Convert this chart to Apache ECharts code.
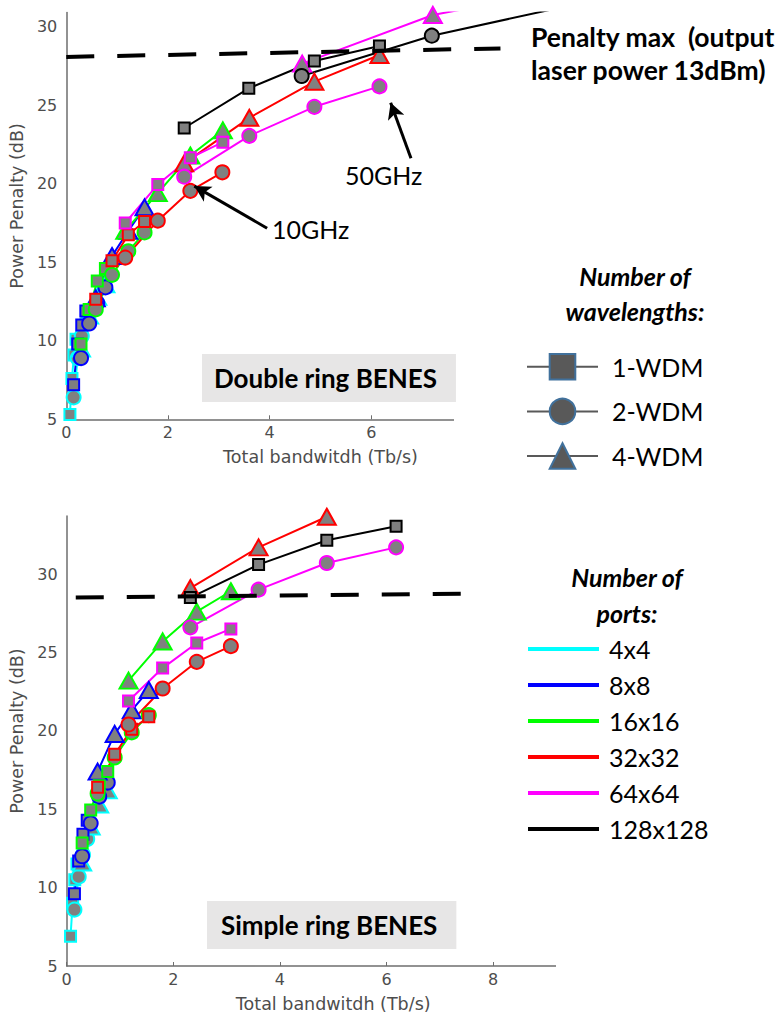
<!DOCTYPE html>
<html><head><meta charset="utf-8">
<script src="https://cdn.jsdelivr.net/npm/echarts@6/dist/echarts.min.js"></script>
<style>html,body{margin:0;padding:0;background:#fff}#c{width:782px;height:1021px}</style>
</head><body><div id="c"></div>
<script>
// ---------- labels ----------
const portLabels = ['4x4','8x8','16x16','32x32','64x64','128x128'];
const wdmLabels = ['1-WDM','2-WDM','4-WDM'];
const xTicks = [0,2,4,6,8,10];
const yTicks = [5,10,15,20,25,30];
const xName = 'Total bandwitdh (Tb/s)';
const yName = 'Power Penalty (dB)';

// ---------- Double ring BENES (top) : [bandwidth Tb/s, penalty dB] ----------
const dr_4x4_1 = [[0.072,5.3],[0.112,7.6],[0.152,9.1],[0.192,10.1]];
const dr_4x4_2 = [[0.145,6.4],[0.225,8.9],[0.305,10.3],[0.385,11.1]];
const dr_4x4_4 = [[0.29,9.5],[0.45,11.6],[0.61,12.8],[0.77,13.6]];
const dr_8x8_1 = [[0.145,7.2],[0.225,9.8],[0.305,11.0],[0.385,11.9]];
const dr_8x8_2 = [[0.29,8.9],[0.45,11.1],[0.61,12.4],[0.77,13.4]];
const dr_8x8_4 = [[0.58,12.7],[0.90,15.4],[1.22,17.0],[1.54,18.5]];
const dr_16_1 = [[0.29,9.8],[0.45,12.0],[0.61,13.8],[0.77,14.6]];
const dr_16_2 = [[0.58,12.0],[0.90,14.2],[1.22,15.7],[1.54,16.9]];
const dr_16_4 = [[1.16,17.0],[1.80,19.4],[2.44,21.8],[3.08,23.4]];
const dr_32_1 = [[0.58,12.65],[0.90,15.1],[1.22,16.75],[1.54,17.6]];
const dr_32_2 = [[1.16,15.3],[1.80,17.65],[2.44,19.55],[3.07,20.73]];
const dr_32_4 = [[2.32,21.3],[3.60,24.2],[4.88,26.5],[6.16,28.2]];
const dr_64_1 = [[1.16,17.5],[1.80,19.95],[2.44,21.65],[3.08,22.65]];
const dr_64_2 = [[2.32,20.45],[3.60,23.05],[4.88,24.9],[6.16,26.2]];
const dr_64_4 = [[4.64,27.65],[7.21,30.75],[9.75,32.3]];
const dr_128_1 = [[2.32,23.55],[3.59,26.08],[4.88,27.82],[6.16,28.77]];
const dr_128_2 = [[4.63,26.86],[7.19,29.43],[9.75,31.24]];
const dr_128_4 = [];
const dr_penaltyMax = [[0,28.08],[8.54,28.62]];
const dr_arrow50 = [[6.78,21.62],[6.38,25.16]];
const dr_arrow10 = [[3.95,17.17],[2.52,19.85]];

// ---------- Simple ring BENES (bottom) ----------
const sr_4x4_1 = [[0.072,6.9],[0.112,9.0],[0.152,10.5],[0.192,11.5]];
const sr_4x4_2 = [[0.145,8.6],[0.225,10.7],[0.305,12.1],[0.385,13.1]];
const sr_4x4_4 = [[0.29,11.6],[0.45,13.9],[0.61,15.3],[0.77,16.2]];
const sr_8x8_1 = [[0.145,9.6],[0.225,11.7],[0.305,13.4],[0.385,14.3]];
const sr_8x8_2 = [[0.29,12.0],[0.45,14.1],[0.61,15.8],[0.77,16.7]];
const sr_8x8_4 = [[0.58,17.4],[0.90,19.8],[1.22,21.3],[1.54,22.6]];
const sr_16_1 = [[0.29,12.85],[0.45,14.95],[0.61,16.5],[0.77,17.4]];
const sr_16_2 = [[0.58,16.0],[0.90,18.3],[1.22,19.9],[1.54,21.0]];
const sr_16_4 = [[1.16,23.2],[1.80,25.7],[2.44,27.6],[3.08,28.9]];
const sr_32_1 = [[0.58,16.4],[0.90,18.5],[1.22,20.1],[1.54,20.9]];
const sr_32_2 = [[1.16,20.4],[1.80,22.7],[2.44,24.4],[3.08,25.4]];
const sr_32_4 = [[2.32,29.1],[3.60,31.7],[4.88,33.65]];
const sr_64_1 = [[1.16,21.9],[1.80,24.0],[2.44,25.6],[3.08,26.5]];
const sr_64_2 = [[2.32,26.6],[3.60,29.0],[4.88,30.7],[6.18,31.7]];
const sr_64_4 = [];
const sr_128_1 = [[2.32,28.5],[3.60,30.6],[4.88,32.15],[6.18,33.05]];
const sr_128_2 = [];
const sr_128_4 = [];
const sr_penaltyMax = [[0.17,28.5],[7.81,28.75]];

// ---------- styles ----------
const portColors = ['#00ffff','#0000ff','#00ff00','#ff0000','#ff00ff','#000000'];
const wdmSymbols = ['rect','circle','triangle'];
const wdmSizes = [11,14,[18,16]];
const FONT_AX = 'DejaVu Sans';
const FONT_TX = 'Lato';

const topSets = [
  [dr_4x4_1,dr_4x4_2,dr_4x4_4],[dr_8x8_1,dr_8x8_2,dr_8x8_4],[dr_16_1,dr_16_2,dr_16_4],
  [dr_32_1,dr_32_2,dr_32_4],[dr_64_1,dr_64_2,dr_64_4],[dr_128_1,dr_128_2,dr_128_4]];
const botSets = [
  [sr_4x4_1,sr_4x4_2,sr_4x4_4],[sr_8x8_1,sr_8x8_2,sr_8x8_4],[sr_16_1,sr_16_2,sr_16_4],
  [sr_32_1,sr_32_2,sr_32_4],[sr_64_1,sr_64_2,sr_64_4],[sr_128_1,sr_128_2,sr_128_4]];

const series = [];
function addSets(sets, gi, tag) {
  sets.forEach((row, p) => row.forEach((d, w) => {
    if (!d.length) return;
    series.push({
      type:'line', name: portLabels[p]+' '+wdmLabels[w]+' '+tag,
      xAxisIndex: gi, yAxisIndex: gi, data: d,
      symbol: wdmSymbols[w], symbolSize: wdmSizes[w], showAllSymbol: true,
      lineStyle:{color: portColors[p], width:2},
      itemStyle:{color:'#808080', borderColor: portColors[p], borderWidth:2},
      emphasis:{disabled:true}, z:2
    });
  }));
}
addSets(topSets, 0, 'double');
addSets(botSets, 1, 'simple');

// penalty max dashed lines
[[dr_penaltyMax,0],[sr_penaltyMax,1]].forEach(([d,gi]) => series.push({
  type:'line', name:'penaltyMax'+gi, xAxisIndex:gi, yAxisIndex:gi, data:d, symbol:'none',
  clip:false, lineStyle:{color:'#000', width:4, type:[28,23]}, emphasis:{disabled:true}, z:3
}));

// arrows (annotation) drawn in data space
series.push({
  type:'line', name:'arrows', xAxisIndex:0, yAxisIndex:0, data:[], symbol:'none',
  markLine:{ silent:true, animation:false, symbol:['none','arrow'], symbolSize:[13,16],
    label:{show:false}, lineStyle:{color:'#000', width:3, type:'solid'},
    data:[ [{coord:dr_arrow50[0]},{coord:dr_arrow50[1]}], [{coord:dr_arrow10[0]},{coord:dr_arrow10[1]}] ] },
  z:4
});

// legend-only series
wdmLabels.forEach((n,w) => series.push({
  type:'line', name:n, xAxisIndex:0, yAxisIndex:0, data:[], symbol: wdmSymbols[w],
  lineStyle:{color:'#595959', width:3},
  itemStyle:{color:'#595959', borderColor:'#41719c', borderWidth:1}
}));
portLabels.forEach((n,p) => series.push({
  type:'line', name:n, xAxisIndex:1, yAxisIndex:1, data:[], symbol:'none',
  lineStyle:{color:portColors[p], width:4}, itemStyle:{color:portColors[p]}
}));

function xAxisCfg(gi){ return {
  gridIndex:gi, type:'value', min:0, max:10, interval:2,
  name:xName, nameLocation:'middle', nameGap:29,
  nameTextStyle:{fontFamily:FONT_AX, fontSize:17.5, color:'#4d4d4d'},
  axisLine:{lineStyle:{color:'#6e6e6e', width:1.5}},
  axisTick:{show:true, inside:true, length:4, lineStyle:{color:'#6e6e6e'}, customValues:xTicks},
  axisLabel:{fontFamily:FONT_AX, fontSize:16, color:'#4d4d4d', margin:5, customValues:xTicks},
  splitLine:{show:false}
};}
function yAxisCfg(gi,max){ return {
  gridIndex:gi, type:'value', min:5, max:max, interval:5,
  name:yName, nameLocation:'middle', nameGap:34, nameRotate:90,
  nameTextStyle:{fontFamily:FONT_AX, fontSize:17.5, color:'#4d4d4d', padding:[0,0,0,20]},
  axisLine:{show:true, lineStyle:{color:'#6e6e6e', width:1.5}},
  axisTick:{show:false},
  axisLabel:{fontFamily:FONT_AX, fontSize:16, color:'#4d4d4d', margin:9, customValues:yTicks},
  splitLine:{show:false}
};}

const txt = (text, left, top, size, weight, style, extra) => Object.assign({
  text, left, top, padding:0, z:10,
  textStyle:{fontFamily:FONT_TX, fontSize:size, fontWeight:weight, fontStyle:style||'normal', color:'#000', lineHeight:Math.round(size*1.32)}
}, extra||{});

const option = {
  animation:false,
  backgroundColor:'#fff',
  grid:[
    {left:62.7, top:12.6, width:512, height:406.7},
    {left:66.7, top:516, width:533, height:450}
  ],
  xAxis:[xAxisCfg(0), xAxisCfg(1)],
  yAxis:[yAxisCfg(0,30.9), yAxisCfg(1,33.7)],
  series,
  graphic:[
    {type:'rect', left:454, top:52, shape:{width:328, height:430}, style:{fill:'#fff'}, z:5, silent:true},
    {type:'rect', left:556, top:940, shape:{width:226, height:50}, style:{fill:'#fff'}, z:5, silent:true}
  ],
  title:[
    txt('Penalty max  (output\nlaser power 13dBm)', 531, 20, 26.5, 'bold', null, {textStyle:{fontFamily:FONT_TX,fontSize:26.5,fontWeight:'bold',color:'#000',lineHeight:33}}),
    txt('50GHz', 345, 158, 25, 'normal'),
    txt('10GHz', 272, 212, 25, 'normal'),
    txt('Double ring BENES', 202, 354, 26, 'bold', null, {backgroundColor:'#e7e6e6', padding:[7,19,7,12]}),
    txt('Simple ring BENES', 207, 901, 26, 'bold', null, {backgroundColor:'#e7e6e6', padding:[7,19,7,14]}),
    txt('Number of\nwavelengths:', 635, 258, 25, 'bold', 'italic', {textAlign:'center', textStyle:{fontFamily:FONT_TX,fontSize:25,fontWeight:'bold',fontStyle:'italic',color:'#000',lineHeight:35}}),
    txt('Number of\nports:', 627, 559, 25, 'bold', 'italic', {textAlign:'center', textStyle:{fontFamily:FONT_TX,fontSize:25,fontWeight:'bold',fontStyle:'italic',color:'#000',lineHeight:36}})
  ],
  legend:[
    {orient:'vertical', left:526, top:353, itemWidth:71, itemHeight:32, itemGap:17, padding:0, z:10,
     selectedMode:false, data:wdmLabels,
     textStyle:{fontFamily:FONT_TX, fontSize:25, color:'#000', padding:[0,0,0,9]}},
    {orient:'vertical', left:528, top:634, itemWidth:71, itemHeight:4, itemGap:6, padding:0, z:10,
     selectedMode:false, data:portLabels.map(n=>({name:n, icon:'rect'})),
     textStyle:{fontFamily:FONT_TX, fontSize:25, color:'#000', lineHeight:30, padding:[0,0,0,5]}}
  ]
};
const chart = echarts.init(document.getElementById('c'), null, {renderer:'svg'});
chart.setOption(option);
</script></body></html>
